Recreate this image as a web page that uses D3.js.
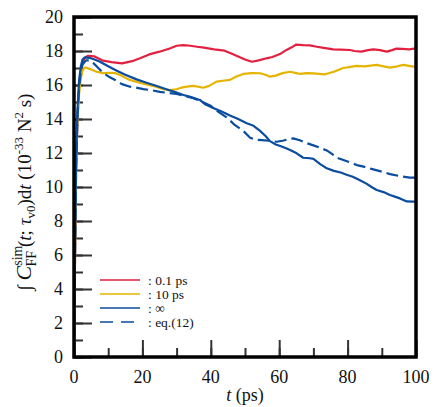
<!DOCTYPE html>
<html>
<head>
<meta charset="utf-8">
<script src="https://cdn.jsdelivr.net/npm/d3@7"></script>
<style>
  body { margin: 0; background: #fff; }
  svg { display: block; font-family: "Liberation Serif", "Times New Roman", serif; }
</style>
</head>
<body>
<svg id="chart" width="436" height="407"></svg>
<script>
// values (t in ps)
var redT = [0, 0.3, 0.6, 1, 1.5, 2, 2.5, 3, 4, 6, 8.5, 11, 14, 17, 19.3, 22, 25, 28, 30, 32, 34, 36, 38, 41, 44, 46, 48.5, 50, 52, 54, 56.3, 58, 60.2, 62, 63.5, 65, 67, 69, 71, 73, 75.8, 78, 80.7, 82, 84, 86, 87.5, 89.5, 91.4, 93, 94.3, 96, 98, 100];
var redV = [0, 6, 11, 14, 15.8, 16.8, 17.3, 17.55, 17.72, 17.68, 17.43, 17.35, 17.27, 17.4, 17.57, 17.8, 17.96, 18.15, 18.31, 18.35, 18.31, 18.25, 18.2, 18.1, 18.02, 17.85, 17.63, 17.5, 17.37, 17.45, 17.57, 17.65, 17.82, 18.05, 18.2, 18.38, 18.35, 18.33, 18.25, 18.18, 18.1, 18.08, 18.06, 18.0, 17.96, 18.05, 18.1, 18.05, 17.96, 18.05, 18.14, 18.12, 18.1, 18.15];

var yelT = [0, 0.3, 0.6, 1, 1.5, 2, 2.5, 3.2, 4.5, 6.6, 8.5, 10.5, 12, 13.5, 15.9, 18, 21.2, 24, 26.1, 28, 30, 31.5, 33, 35, 37.8, 39.5, 41.7, 43.5, 45.6, 47.5, 49.5, 52, 54.4, 56, 57.3, 59, 61, 63.2, 65, 66.1, 68, 70, 73.4, 76, 78.7, 80.5, 82.6, 85, 88.5, 90.5, 92.4, 94.5, 96.3, 99.2, 100];
var yelV = [0, 6, 11, 14, 15.5, 16.4, 16.85, 17.04, 16.95, 16.78, 16.7, 16.72, 16.7, 16.59, 16.33, 16.2, 16.04, 15.9, 15.75, 15.7, 15.75, 15.85, 15.9, 15.95, 15.84, 15.95, 16.2, 16.25, 16.3, 16.5, 16.65, 16.7, 16.69, 16.6, 16.49, 16.55, 16.7, 16.78, 16.7, 16.65, 16.7, 16.68, 16.63, 16.78, 17.0, 17.05, 17.12, 17.1, 17.18, 17.1, 17.02, 17.1, 17.18, 17.08, 17.08];

var infT = [0, 0.3, 0.6, 1, 1.5, 2, 2.5, 3.2, 4.5, 6, 7.6, 10, 12.5, 15, 18.3, 21, 24.2, 27, 30, 32, 34, 36.8, 38.5, 40.7, 43, 45.6, 48, 50.5, 52.5, 54.4, 56, 57.3, 59, 60.5, 62.2, 63.5, 65.1, 67, 69, 70, 72, 73.9, 76, 78, 79.7, 81.5, 83.6, 85.5, 87, 88.5, 90.5, 92.4, 94, 95.3, 97.3, 99.2, 100];
var infV = [0, 6.5, 11.5, 14.5, 16.3, 17.1, 17.5, 17.63, 17.6, 17.5, 17.37, 17.1, 16.84, 16.6, 16.33, 16.15, 15.94, 15.75, 15.55, 15.41, 15.3, 15.12, 14.85, 14.65, 14.45, 14.2, 14.0, 13.75, 13.6, 13.3, 13.0, 12.7, 12.5, 12.4, 12.27, 12.15, 11.98, 11.72, 11.69, 11.65, 11.35, 11.1, 10.95, 10.85, 10.72, 10.6, 10.4, 10.2, 10.0, 9.82, 9.7, 9.53, 9.42, 9.33, 9.15, 9.14, 9.14];

var eqT = [0, 0.3, 0.6, 1, 1.5, 2, 2.5, 3.5, 4.5, 5.6, 6.6, 8.6, 10.5, 12, 14, 16.4, 18, 20.3, 23, 25.1, 28, 30, 32.5, 34.9, 37, 39.8, 42, 44.6, 47, 49.5, 51.5, 53, 55, 57, 59.3, 61, 62.5, 64.1, 66, 68, 70, 72, 73.9, 77.3, 80, 82.7, 85, 87.5, 90, 92.4, 95, 98.2, 100];
var eqV = [0, 6, 11, 14, 15.9, 16.8, 17.2, 17.45, 17.45, 17.3, 17.1, 16.7, 16.45, 16.3, 16.05, 15.9, 15.85, 15.76, 15.68, 15.6, 15.52, 15.47, 15.35, 15.22, 15.05, 14.8, 14.45, 14.1, 13.65, 13.3, 12.9, 12.78, 12.76, 12.72, 12.66, 12.72, 12.8, 12.86, 12.75, 12.58, 12.45, 12.3, 12.15, 11.69, 11.5, 11.29, 11.18, 11.04, 10.9, 10.76, 10.65, 10.55, 10.55];

var xTicks = [0, 20, 40, 60, 80, 100];
var yTicks = [0, 2, 4, 6, 8, 10, 12, 14, 16, 18, 20];
var legendNames = [': 0.1 ps', ': 10 ps', ': \u221e', ': eq.(12)'];

var series = [
  { t: redT, v: redV, color: '#e3203f', dash: null },
  { t: yelT, v: yelV, color: '#e5b400', dash: null },
  { t: infT, v: infV, color: '#0a4c9e', dash: null },
  { t: eqT, v: eqV, color: '#0a4c9e', dash: '12,5' }
];

var svg = d3.select('#chart');
var plotL = 74, plotR = 416, plotT = 17, plotB = 357;

var x = d3.scaleLinear().domain([0, 100]).range([plotL, plotR]);
var y = d3.scaleLinear().domain([0, 20]).range([plotB, plotT]);

svg.append('clipPath').attr('id', 'clip')
  .append('rect')
    .attr('x', plotL).attr('y', plotT)
    .attr('width', plotR - plotL).attr('height', plotB - plotT);

// inward ticks on left and bottom
var yMinor = d3.range(0, 21, 1);
var xMinor = d3.range(0, 101, 10);

function tickGroup(axis, transform) {
  svg.append('g')
      .attr('transform', transform)
      .call(axis)
      .call(function(g) { g.select('.domain').remove(); })
      .selectAll('line').attr('stroke', '#333').attr('stroke-width', 2);
}

tickGroup(d3.axisRight(y).tickValues(yMinor).tickSize(9).tickFormat(''), 'translate(' + plotL + ',0)');
tickGroup(d3.axisRight(y).tickValues(yTicks).tickSize(18).tickFormat(''), 'translate(' + plotL + ',0)');
tickGroup(d3.axisTop(x).tickValues(xMinor).tickSize(9).tickFormat(''), 'translate(0,' + plotB + ')');
tickGroup(d3.axisTop(x).tickValues(xTicks).tickSize(17).tickFormat(''), 'translate(0,' + plotB + ')');

// tick labels
svg.append('g').selectAll('text')
  .data(yTicks)
  .enter().append('text')
    .attr('x', 63)
    .attr('y', function(d) { return y(d) + 6; })
    .attr('text-anchor', 'end')
    .attr('font-size', 18)
    .attr('fill', '#111')
    .text(function(d) { return d; });

svg.append('g').selectAll('text')
  .data(xTicks)
  .enter().append('text')
    .attr('x', function(d) { return x(d); })
    .attr('y', 383)
    .attr('text-anchor', 'middle')
    .attr('font-size', 18)
    .attr('fill', '#111')
    .text(function(d) { return d; });

// curves
var line = d3.line()
    .x(function(d) { return x(d[0]); })
    .y(function(d) { return y(d[1]); });

series.forEach(function(s) {
  svg.append('path')
      .datum(d3.zip(s.t, s.v))
      .attr('clip-path', 'url(#clip)')
      .attr('d', line)
      .attr('fill', 'none')
      .attr('stroke', s.color)
      .attr('stroke-width', 2.2)
      .attr('stroke-linejoin', 'round')
      .attr('stroke-dasharray', s.dash);
});

// frame
svg.append('rect')
    .attr('x', plotL).attr('y', plotT)
    .attr('width', plotR - plotL).attr('height', plotB - plotT)
    .attr('fill', 'none')
    .attr('stroke', '#000')
    .attr('stroke-width', 3.5);

// legend
var legend = svg.append('g').selectAll('g')
  .data(series)
  .enter().append('g')
    .attr('transform', function(d, i) { return 'translate(100,' + (280 + i * 14) + ')'; });

legend.append('line')
    .attr('x1', 0).attr('x2', 40)
    .attr('stroke', function(d) { return d.color; })
    .attr('stroke-width', 1.6)
    .attr('stroke-dasharray', function(d) { return d.dash ? '13,8' : null; });

legend.append('text')
    .attr('x', 48)
    .attr('y', 4.5)
    .attr('font-size', 13.5)
    .attr('fill', '#111')
    .text(function(d, i) { return legendNames[i]; });

// axis titles
var xt = svg.append('text')
    .attr('x', 245).attr('y', 401)
    .attr('text-anchor', 'middle')
    .attr('font-size', 18)
    .attr('fill', '#111');
xt.append('tspan').attr('font-style', 'italic').text('t');
xt.append('tspan').text(' (ps)');

var yt = svg.append('text')
    .attr('transform', 'translate(31,192) rotate(-90)')
    .attr('text-anchor', 'middle')
    .attr('font-size', 19)
    .attr('fill', '#111');
yt.append('tspan').text('\u222b ');
yt.append('tspan').attr('font-style', 'italic').attr('font-size', 22).text('C');
yt.append('tspan').attr('font-size', 14).attr('dy', -9).text('sim');
yt.append('tspan').attr('font-size', 14).attr('dx', -21).attr('dy', 14).text('FF');
yt.append('tspan').attr('dy', -5).attr('dx', 4).text('(');
yt.append('tspan').attr('font-style', 'italic').text('t');
yt.append('tspan').text('; ');
yt.append('tspan').attr('font-style', 'italic').text('\u03c4');
yt.append('tspan').attr('font-size', 13).attr('dy', 4).text('v0');
yt.append('tspan').attr('dy', -4).text(')d');
yt.append('tspan').attr('font-style', 'italic').text('t');
yt.append('tspan').text(' (10');
yt.append('tspan').attr('font-size', 13).attr('dy', -8).text('-33');
yt.append('tspan').attr('dy', 8).text(' N');
yt.append('tspan').attr('font-size', 13).attr('dy', -8).text('2');
yt.append('tspan').attr('dy', 8).text(' s)');
</script>
</body>
</html>
